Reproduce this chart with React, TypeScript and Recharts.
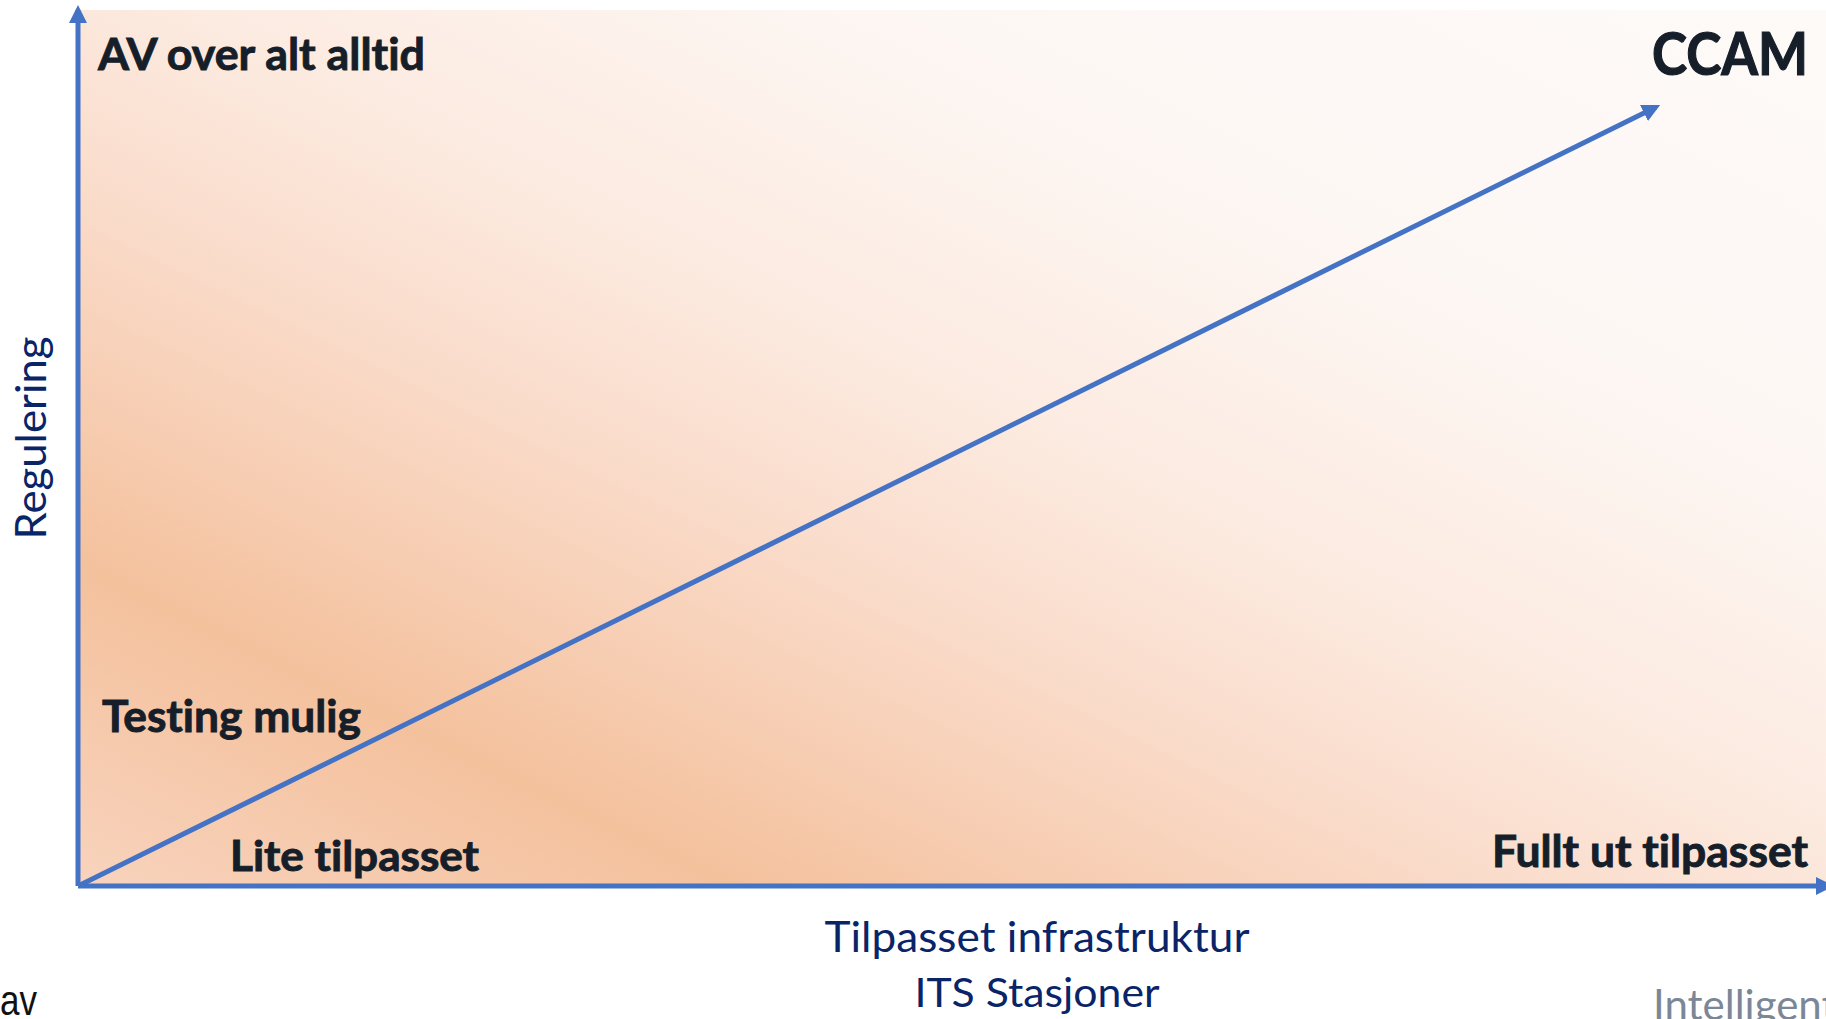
import React from 'react';
import { LineChart, Line, XAxis, YAxis, ReferenceArea, ReferenceDot } from 'recharts';

// ---- data (axis units 0..100 on both axes) ----
const xDomain: [number, number] = [0, 100];
const yDomain: [number, number] = [0, 100];

// progression arrow: from origin to "CCAM"
const progress = [
  { x: 0, y: 0 },
  { x: 90.1, y: 88.9 },
];

// annotation texts and their anchor positions in data units
const labelTexts = [
  'AV over alt alltid',
  'CCAM',
  'Testing mulig',
  'Lite tilpasset',
  'Fullt ut tilpasset',
  'Tilpasset infrastruktur',
  'ITS Stasjoner',
  'Regulering',
  'av',
  'Intelligent',
];
const labelX = [1.14, 89.89, 1.37, 8.68, 80.75, 54.77, 54.77, -1.83, -4.45, 89.95];
const labelY = [93.15, 92.58, 17.58, 1.71, 2.17, -7.53, -13.81, 51.14, -14.73, -15.3];

// ---- styles ----
const BLUE = '#4472c4';
const DARK = '#151e29';
const NAVY = '#0a2468';
const FONT = 'Lato, "Open Sans", sans-serif';

type LabelStyle = {
  size: number;
  weight: number;
  fill: string;
  anchor: 'start' | 'middle' | 'end';
  len?: number;
  rotate?: number;
  family?: string;
  heavy?: number;
};

const labelStyles: LabelStyle[] = [
  { size: 44, weight: 700, fill: DARK, anchor: 'start', len: 327, heavy: 0.9 },
  { size: 59, weight: 700, fill: DARK, anchor: 'start', len: 156, heavy: 1.2 },
  { size: 44, weight: 700, fill: DARK, anchor: 'start', len: 259, heavy: 0.9 },
  { size: 42, weight: 700, fill: DARK, anchor: 'start', len: 249, heavy: 0.9 },
  { size: 43, weight: 700, fill: DARK, anchor: 'start', len: 316, heavy: 0.9 },
  { size: 42, weight: 400, fill: NAVY, anchor: 'middle', len: 425 },
  { size: 41, weight: 400, fill: NAVY, anchor: 'middle', len: 245 },
  { size: 42, weight: 400, fill: NAVY, anchor: 'middle', len: 203, rotate: -90 },
  { size: 42, weight: 400, fill: '#111111', anchor: 'start', len: 37, family: '"Liberation Sans", Arial, sans-serif' },
  { size: 42, weight: 400, fill: '#7b8797', anchor: 'start' },
];

const TextMark = (props: any) => {
  const { cx, cy, text, st } = props as { cx: number; cy: number; text: string; st: LabelStyle };
  if (cx == null || cy == null) return null;
  return (
    <text
      x={cx}
      y={cy}
      textAnchor={st.anchor}
      fontFamily={st.family || FONT}
      fontSize={st.size}
      fontWeight={st.weight}
      fill={st.fill}
      stroke={st.heavy ? st.fill : undefined}
      strokeWidth={st.heavy}
      textLength={st.len}
      lengthAdjust={st.len ? 'spacingAndGlyphs' : undefined}
      style={{ fontVariantLigatures: 'none', fontFeatureSettings: '"liga" 0' }}
      transform={st.rotate ? `rotate(${st.rotate} ${cx} ${cy})` : undefined}
    >
      {text}
    </text>
  );
};

export default function App() {
  return (
    <div
      style={{
        position: 'absolute',
        left: 0,
        top: 0,
        width: 1826,
        height: 1019,
        overflow: 'hidden',
        background: '#ffffff',
      }}
    >
      <LineChart
        width={1850}
        height={1019}
        margin={{ top: 10, right: 21, left: 0, bottom: 103 }}
      >
        <defs>
          <linearGradient id="bgGrad" gradientUnits="userSpaceOnUse" x1={78} y1={886} x2={764} y2={-517}>
            <stop offset="0" stopColor="#f8d3bd" />
            <stop offset="0.185" stopColor="#f4c19d" />
            <stop offset="0.402" stopColor="#fadccb" />
            <stop offset="0.537" stopColor="#fcebe1" />
            <stop offset="0.735" stopColor="#fdf7f4" />
            <stop offset="1" stopColor="#fdfaf8" />
          </linearGradient>
          <marker
            id="arrowHead"
            markerUnits="userSpaceOnUse"
            markerWidth={18}
            markerHeight={18}
            viewBox="0 0 18 18"
            refX={13}
            refY={9}
            orient="auto-start-reverse"
          >
            <path d="M0,0 L18,9 L0,18 Z" fill={BLUE} />
          </marker>
        </defs>
        <XAxis
          type="number"
          dataKey="x"
          domain={xDomain}
          allowDataOverflow
          height={30}
          tick={false}
          tickLine={false}
          axisLine={{ stroke: BLUE, strokeWidth: 5, markerEnd: 'url(#arrowHead)' } as any}
        />
        <YAxis
          type="number"
          dataKey="y"
          domain={yDomain}
          allowDataOverflow
          width={78}
          tick={false}
          tickLine={false}
          axisLine={{ stroke: BLUE, strokeWidth: 5, markerStart: 'url(#arrowHead)' } as any}
        />
        <ReferenceArea
          x1={xDomain[0]}
          x2={xDomain[1]}
          y1={yDomain[0]}
          y2={yDomain[1]}
          fill="url(#bgGrad)"
          fillOpacity={1}
          stroke="none"
        />
        <Line
          data={progress}
          dataKey="y"
          type="linear"
          stroke={BLUE}
          strokeWidth={5}
          dot={false}
          activeDot={false}
          isAnimationActive={false}
          markerEnd="url(#arrowHead)"
        />
        {labelTexts.map((t, i) => (
          <ReferenceDot
            key={t}
            x={labelX[i]}
            y={labelY[i]}
            r={0}
            ifOverflow="visible"
            shape={(p: any) => <TextMark {...p} text={t} st={labelStyles[i]} />}
          />
        ))}
      </LineChart>
    </div>
  );
}
